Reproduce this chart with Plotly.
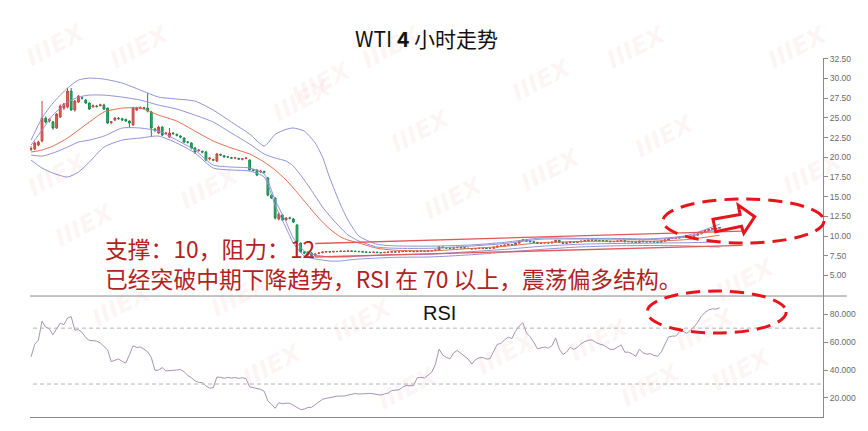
import plotly.graph_objects as go

# ---------------- data ----------------
open_px = [
    21.00, 21.04, 21.55, 22.06, 24.97, 24.60, 24.50, 23.71, 25.10, 26.24,
    26.37, 28.40, 26.00, 27.00, 27.55, 27.26, 26.88, 26.40, 26.50, 26.55,
    26.62, 26.24, 24.40, 24.72, 24.95, 24.90, 24.80, 24.59, 24.09, 25.99,
    26.20, 26.30, 26.24, 25.74, 23.60, 23.07, 23.83, 23.00, 22.56, 23.07,
    22.90, 22.70, 22.44, 21.95, 21.80, 21.17, 20.85, 20.75, 20.66, 19.80,
    19.70, 19.52, 20.35, 20.20, 20.05, 19.95, 19.90, 19.85, 19.75, 19.85,
    19.64, 18.40, 18.38, 18.15, 18.20, 17.36, 15.20, 14.82, 12.16, 12.66,
    12.05, 12.30, 12.16, 11.40, 9.11, 7.97, 7.59, 7.84, 7.55, 7.80,
    7.90, 7.97, 8.02, 7.98, 8.05, 8.03, 8.08, 8.04, 8.10, 8.07,
    8.05, 8.02, 7.97, 7.95, 7.92, 7.96, 7.90, 7.88, 7.93, 7.96,
    8.00, 7.98, 8.01, 8.05, 8.08, 8.04, 8.02, 8.10, 8.08, 8.05,
    8.12, 8.15, 8.22, 8.62, 8.52, 8.48, 8.45, 8.52, 8.56, 8.50,
    8.46, 8.42, 8.36, 8.42, 8.45, 8.46, 8.43, 8.45, 8.58, 8.72,
    8.75, 8.84, 8.92, 8.88, 9.10, 9.40, 9.52, 9.35, 9.28, 9.20,
    9.08, 9.12, 9.15, 9.12, 9.22, 9.45, 9.20, 9.08, 9.14, 9.25,
    9.20, 9.26, 9.35, 9.42, 9.47, 9.50, 9.44, 9.41, 9.39, 9.34,
    9.28, 9.30, 9.36, 9.42, 9.28, 9.29, 9.25, 9.18, 9.36, 9.28,
    9.26, 9.28, 9.24, 9.22, 9.33, 9.52, 9.68, 9.72, 9.74, 9.88,
    9.92, 9.86, 9.96, 10.10, 10.28, 10.52, 10.70, 10.86, 10.95, 10.98,
]
high_px = [
    21.40, 22.00, 22.10, 27.13, 25.20, 25.00, 24.60, 25.60, 26.70, 26.90,
    28.78, 28.80, 27.30, 27.90, 27.70, 27.40, 27.00, 26.70, 26.65, 26.80,
    26.80, 26.30, 24.60, 25.10, 25.10, 25.00, 24.90, 24.70, 26.40, 26.40,
    26.45, 26.40, 28.15, 25.90, 23.70, 24.00, 23.95, 23.20, 23.71, 23.20,
    23.00, 22.80, 22.55, 22.05, 21.90, 21.30, 21.05, 20.85, 20.80, 20.00,
    19.80, 20.55, 20.45, 20.30, 20.15, 20.05, 20.05, 19.95, 19.90, 20.00,
    19.75, 18.50, 18.50, 18.40, 18.30, 17.50, 15.30, 14.95, 12.95, 12.80,
    12.40, 12.45, 12.30, 11.50, 9.20, 8.05, 8.05, 7.95, 7.85, 7.95,
    8.05, 8.08, 8.07, 8.10, 8.10, 8.14, 8.12, 8.16, 8.15, 8.12,
    8.09, 8.06, 8.02, 8.00, 8.01, 8.00, 7.95, 7.98, 8.01, 8.05,
    8.04, 8.06, 8.10, 8.13, 8.12, 8.08, 8.15, 8.14, 8.12, 8.17,
    8.20, 8.27, 8.70, 8.66, 8.57, 8.53, 8.57, 8.61, 8.60, 8.54,
    8.50, 8.46, 8.47, 8.50, 8.51, 8.50, 8.50, 8.63, 8.77, 8.80,
    8.89, 8.97, 8.96, 9.15, 9.46, 9.58, 9.56, 9.39, 9.32, 9.24,
    9.17, 9.20, 9.19, 9.27, 9.50, 9.49, 9.24, 9.19, 9.30, 9.29,
    9.31, 9.40, 9.47, 9.52, 9.55, 9.54, 9.48, 9.45, 9.43, 9.38,
    9.35, 9.41, 9.47, 9.46, 9.34, 9.33, 9.29, 9.41, 9.40, 9.32,
    9.33, 9.32, 9.28, 9.38, 9.57, 9.73, 9.77, 9.79, 9.93, 9.97,
    9.96, 10.01, 10.15, 10.33, 10.57, 10.75, 10.91, 11.00, 11.03, 11.13,
]
low_px = [
    20.80, 20.90, 21.40, 21.90, 24.30, 24.40, 23.50, 23.60, 25.00, 26.00,
    26.20, 25.90, 25.80, 26.90, 27.35, 26.80, 26.00, 26.30, 26.30, 26.45,
    26.00, 24.20, 24.20, 24.60, 24.75, 24.60, 24.50, 23.71, 24.00, 25.90,
    26.10, 26.05, 25.70, 22.56, 23.20, 22.95, 22.70, 22.90, 22.45, 22.85,
    22.65, 22.40, 21.80, 21.75, 21.00, 20.40, 20.70, 20.50, 19.50, 19.60,
    19.50, 19.40, 20.15, 19.95, 19.90, 19.80, 19.75, 19.65, 19.60, 19.75,
    18.30, 18.20, 17.60, 18.00, 17.95, 15.05, 14.70, 12.10, 12.00, 11.90,
    11.95, 12.10, 11.65, 9.10, 7.85, 7.70, 7.50, 7.40, 7.35, 7.70,
    7.80, 7.90, 7.93, 7.94, 7.98, 7.99, 8.00, 8.01, 8.02, 8.00,
    7.96, 7.92, 7.90, 7.87, 7.88, 7.85, 7.83, 7.85, 7.89, 7.92,
    7.93, 7.94, 7.97, 8.01, 8.00, 7.97, 7.99, 8.03, 8.01, 8.02,
    8.08, 8.11, 8.18, 8.47, 8.43, 8.40, 8.41, 8.48, 8.45, 8.41,
    8.37, 8.31, 8.32, 8.38, 8.40, 8.38, 8.39, 8.41, 8.54, 8.67,
    8.71, 8.80, 8.83, 8.85, 9.06, 9.36, 9.30, 9.23, 9.15, 9.03,
    9.04, 9.08, 9.07, 9.08, 9.18, 9.15, 9.03, 9.04, 9.10, 9.15,
    9.16, 9.22, 9.31, 9.38, 9.43, 9.39, 9.36, 9.34, 9.29, 9.23,
    9.24, 9.26, 9.32, 9.23, 9.24, 9.20, 9.13, 9.14, 9.23, 9.21,
    9.22, 9.19, 9.17, 9.18, 9.29, 9.48, 9.64, 9.67, 9.70, 9.84,
    9.81, 9.82, 9.92, 10.06, 10.24, 10.48, 10.66, 10.82, 10.90, 10.94,
]
close_px = [
    21.10, 21.80, 21.93, 24.97, 24.47, 24.80, 23.71, 25.48, 26.50, 26.75,
    28.40, 26.00, 27.13, 27.77, 27.50, 26.88, 26.12, 26.55, 26.45, 26.65,
    26.12, 24.34, 24.50, 24.97, 24.90, 24.75, 24.60, 24.34, 26.24, 26.24,
    26.30, 26.20, 25.86, 23.71, 23.45, 23.83, 22.82, 23.07, 23.07, 23.00,
    22.80, 22.56, 21.93, 21.90, 21.17, 20.66, 20.90, 20.66, 19.64, 19.90,
    19.65, 20.41, 20.28, 20.05, 20.03, 19.90, 19.95, 19.77, 19.80, 19.90,
    18.38, 18.35, 17.74, 18.25, 18.10, 15.20, 14.82, 12.28, 12.79, 12.03,
    12.28, 12.25, 11.78, 9.24, 7.97, 7.84, 7.97, 7.50, 7.72, 7.84,
    7.97, 8.02, 7.98, 8.05, 8.03, 8.08, 8.04, 8.10, 8.07, 8.05,
    8.02, 7.97, 7.95, 7.92, 7.96, 7.90, 7.88, 7.93, 7.96, 8.00,
    7.98, 8.01, 8.05, 8.08, 8.04, 8.02, 8.10, 8.08, 8.05, 8.12,
    8.15, 8.22, 8.62, 8.52, 8.48, 8.45, 8.52, 8.56, 8.50, 8.46,
    8.42, 8.36, 8.42, 8.45, 8.46, 8.43, 8.45, 8.58, 8.72, 8.75,
    8.84, 8.92, 8.88, 9.10, 9.40, 9.52, 9.35, 9.28, 9.20, 9.08,
    9.12, 9.15, 9.12, 9.22, 9.45, 9.20, 9.08, 9.14, 9.25, 9.20,
    9.26, 9.35, 9.42, 9.47, 9.50, 9.44, 9.41, 9.39, 9.34, 9.28,
    9.30, 9.36, 9.42, 9.28, 9.29, 9.25, 9.18, 9.36, 9.28, 9.26,
    9.28, 9.24, 9.22, 9.33, 9.52, 9.68, 9.72, 9.74, 9.88, 9.92,
    9.86, 9.96, 10.10, 10.28, 10.52, 10.70, 10.86, 10.95, 10.98, 11.08,
]

# band / moving-average lines, read at these candle positions
band_idx = [0, 3, 6, 10, 13, 16, 20, 25, 30, 35, 40, 45, 50, 55, 60, 64, 67, 70,
            72, 75, 78, 80, 82, 85, 87, 90, 95, 100, 110, 120, 130, 140, 150,
            160, 170, 180, 189]
band_upper_outer = [22.18, 24.97, 26.88, 28.78, 29.80, 30.05, 29.92, 29.42, 28.53,
                    27.64, 27.39, 27.13, 25.99, 24.47, 22.94, 21.42, 22.90, 23.55,
                    23.71, 23.32, 21.80, 20.03, 17.36, 13.93, 12.03, 10.00, 8.95,
                    8.75, 8.72, 8.85, 9.20, 9.75, 9.70, 9.70, 9.65, 10.05, 11.50]
band_upper_inner = [21.55, 23.45, 25.35, 27.00, 27.64, 27.89, 27.89, 27.64, 27.26,
                    26.62, 26.12, 25.35, 24.47, 23.07, 21.67, 20.41, 19.90, 19.52,
                    18.88, 17.11, 15.08, 13.68, 12.54, 11.02, 10.13, 9.37, 8.60,
                    8.45, 8.45, 8.70, 9.05, 9.60, 9.62, 9.60, 9.55, 9.90, 11.00]
ma_middle = [20.66, 20.91, 21.42, 22.44, 23.45, 24.47, 25.74, 26.24, 26.24,
             25.35, 24.59, 23.32, 22.06, 21.17, 20.41, 19.39, 18.38, 17.11,
             16.09, 14.44, 12.79, 11.78, 10.89, 9.87, 9.49, 9.11, 8.45,
             8.20, 8.12, 8.40, 8.70, 9.15, 9.30, 9.35, 9.35, 9.55, 10.10]
band_lower_inner = [20.28, 20.15, 20.53, 21.29, 21.93, 22.18, 22.69, 23.71, 23.71,
                    23.32, 22.18, 20.91, 19.01, 18.76, 18.63, 17.87, 14.57, 11.78,
                    9.75, 8.10, 7.59, 7.46, 7.34, 7.34, 7.34, 7.46, 7.55,
                    7.65, 7.70, 8.00, 8.30, 8.70, 8.95, 9.05, 9.10, 9.15, 9.25]
band_lower_outer = [19.64, 18.63, 17.99, 17.49, 18.12, 19.39, 21.29, 22.18, 22.44,
                    22.69, 21.80, 20.53, 18.63, 18.38, 18.25, 17.49, 13.93, 11.02,
                    9.11, 7.46, 7.08, 6.95, 6.83, 6.83, 6.95, 7.08, 7.20,
                    7.30, 7.35, 7.60, 7.95, 8.30, 8.60, 8.75, 8.80, 8.75, 8.60]

rsi = [
    49.5, 58.5, 61.4, 75.0, 70.8, 69.5, 65.3, 69.8, 73.6, 72.5,
    77.2, 78.3, 68.6, 68.9, 67.0, 63.2, 61.2, 61.1, 60.7, 59.4,
    57.2, 54.5, 46.0, 46.8, 48.0, 46.2, 45.0, 51.0, 57.4, 56.2,
    56.5, 55.0, 53.1, 49.0, 39.8, 40.0, 41.8, 39.4, 39.8, 39.8,
    40.0, 40.4, 38.8, 36.2, 34.5, 32.3, 31.2, 31.0, 28.7, 27.1,
    27.3, 35.0, 34.8, 34.1, 34.7, 34.3, 34.6, 34.1, 34.5, 33.8,
    28.0, 27.5, 26.7, 26.2, 24.8, 17.8, 15.6, 12.6, 16.6, 15.9,
    16.3, 16.2, 14.8, 13.0, 11.7, 12.1, 13.2, 13.3, 15.2, 17.7,
    19.1, 19.7, 20.3, 20.8, 21.3, 21.4, 21.4, 22.1, 22.9, 23.2,
    22.8, 22.7, 23.1, 23.3, 23.0, 22.3, 22.1, 22.9, 23.5, 25.3,
    25.7, 25.9, 27.8, 29.0, 28.8, 28.8, 34.5, 34.8, 34.3, 36.7,
    38.5, 44.0, 55.0, 50.8, 49.0, 48.0, 52.3, 54.0, 52.0, 49.8,
    47.8, 44.3, 47.5, 48.8, 49.0, 47.9, 48.1, 53.5, 58.5, 59.0,
    61.7, 63.5, 62.5, 67.8, 71.5, 73.8, 66.5, 63.8, 60.0, 55.2,
    55.9, 56.5, 55.7, 57.5, 63.0, 55.0, 51.1, 52.8, 56.4, 54.8,
    56.3, 58.9, 60.4, 61.3, 61.6, 59.8, 58.7, 58.0, 56.4, 54.8,
    54.9, 56.6, 58.0, 52.8, 52.8, 51.6, 49.8, 55.0, 52.3, 51.4,
    51.8, 50.4, 49.9, 53.0, 59.0, 63.7, 64.3, 64.3, 67.5, 67.8,
    66.2, 68.3, 70.9, 74.2, 78.6, 81.1, 83.1, 83.8, 83.6, 84.5,
]

price_ticks = [5.0, 7.5, 10.0, 12.5, 15.0, 17.5, 20.0, 22.5, 25.0, 27.5, 30.0, 32.5]
rsi_ticks = [20, 40, 60, 80]
rsi_levels = [70, 30]

# trend channel drawn on the chart: (x0, y0, x1, y1) in candle index / price
channel_lines = [(78.0, 9.05, 195.3, 10.63), (78.0, 7.34, 195.3, 8.82)]

title_text = "WTI <b>4</b> 小时走势"
note_text = "支撑：10，阻力：12<br>已经突破中期下降趋势，RSI 在 70 以上，震荡偏多结构。"

# ---------------- layout helpers ----------------
# The page body has an 8px default margin, so the figure is drawn 8px smaller
# and all reference pixel positions are mapped through the plot area.
PAGE_OFF = 8
W, H = 868 - PAGE_OFF, 431 - PAGE_OFF
PL, PR, PT, PB = 30, 828, 58, 417          # plot area in reference pixels
ML, MT = PL - PAGE_OFF, PT - PAGE_OFF
MR, MB = W - (PR - PAGE_OFF), H - (PB - PAGE_OFF)
SPLIT = 0.337


def fx(p):  # reference pixel x -> paper
    return (p - PL) / (PR - PL)


def fy(p):  # reference pixel y -> paper
    return (PB - p) / (PB - PT)


BLUE = "#9092d6"
ORANGE = "#e36d4d"
RED = "#e8141b"
idx = list(range(len(close_px)))

fig = go.Figure()

for vals, col in [(band_upper_outer, BLUE), (band_upper_inner, BLUE),
                  (ma_middle, ORANGE), (band_lower_inner, BLUE),
                  (band_lower_outer, BLUE)]:
    fig.add_trace(go.Scatter(
        x=band_idx, y=vals, mode="lines", xaxis="x", yaxis="y",
        line=dict(color=col, width=1, shape="spline", smoothing=0.6),
        hoverinfo="skip", showlegend=False))

fig.add_trace(go.Candlestick(
    x=idx, open=open_px, high=high_px, low=low_px, close=close_px,
    xaxis="x", yaxis="y", whiskerwidth=0,
    increasing=dict(line=dict(color="#c8413d", width=1), fillcolor="#e8605a"),
    decreasing=dict(line=dict(color="#178a4c", width=1), fillcolor="#23b36b"),
    hoverinfo="skip", showlegend=False))

fig.add_trace(go.Scatter(
    x=idx, y=rsi, mode="lines", xaxis="x2", yaxis="y2",
    line=dict(color="#a893b2", width=1), hoverinfo="skip", showlegend=False))

tickfont = dict(family="Liberation Sans", size=8.5, color="#6a6a6a")
fig.update_layout(
    width=W, height=H,
    margin=dict(l=ML, r=MR, t=MT, b=MB, pad=0),
    paper_bgcolor="white", plot_bgcolor="white", showlegend=False,
    title=dict(text=title_text, x=0.5, xref="paper", xanchor="center",
               y=1 - (40 - PAGE_OFF) / H, yref="container", yanchor="middle",
               font=dict(family="Noto Sans CJK SC", size=21, color="#111111")),
    xaxis=dict(domain=[0, 1], range=[-0.3, 217.4], anchor="y", visible=False,
               rangeslider=dict(visible=False)),
    yaxis=dict(domain=[SPLIT, 1], range=[2.386, 32.6], anchor="x", side="right",
               tickvals=price_ticks, ticktext=[f"{v:.2f}" for v in price_ticks],
               showgrid=False, zeroline=False, showline=True, linecolor="#8a8a8a",
               ticks="outside", ticklen=4, tickcolor="#8a8a8a", tickfont=tickfont),
    xaxis2=dict(domain=[0, 1], range=[-0.3, 217.4], anchor="y2",
                showticklabels=False, showgrid=False, zeroline=False,
                showline=True, linecolor="#8a8a8a", ticks=""),
    yaxis2=dict(domain=[0, SPLIT], range=[6.4, 93], anchor="x2", side="right",
                tickvals=rsi_ticks, ticktext=[f"{v:.3f}" for v in rsi_ticks],
                showgrid=False, zeroline=False, showline=True, linecolor="#8a8a8a",
                ticks="outside", ticklen=4, tickcolor="#8a8a8a", tickfont=tickfont),
)

shapes = []
# panel separator
shapes.append(dict(type="line", xref="paper", yref="paper", x0=0, x1=fx(852),
                   y0=SPLIT, y1=SPLIT, line=dict(color="#8a8a8a", width=1)))
# RSI 70 / 30 levels
for lv in rsi_levels:
    shapes.append(dict(type="line", xref="paper", yref="y2", x0=fx(33), x1=1,
                       y0=lv, y1=lv, line=dict(color="#b4b4b4", width=1, dash="4px,3px")))
# trend channel
for (x0, y0, x1, y1) in channel_lines:
    shapes.append(dict(type="line", xref="x", yref="y", x0=x0, y0=y0, x1=x1, y1=y1,
                       line=dict(color="#e05a5a", width=1.3)))
# dashed ellipses
for (cx, cy, rx, ry) in [(748, 221, 81, 22), (721, 312, 70, 21)]:
    shapes.append(dict(type="circle", xref="paper", yref="paper",
                       x0=fx(cx - rx), x1=fx(cx + rx), y0=fy(cy + ry), y1=fy(cy - ry),
                       line=dict(color=RED, width=3, dash="14px,8px")))
# hollow arrow
arrow_pts = [(717.3, 219.3), (744.5, 214.5), (742.7, 205.0), (759.3, 216.7),
             (748.3, 233.3), (746.0, 226.3), (720.0, 231.7)]
path = "M " + " L ".join(f"{fx(a):.5f},{fy(b):.5f}" for a, b in arrow_pts) + " Z"
shapes.append(dict(type="path", xref="paper", yref="paper", path=path,
                   line=dict(color=RED, width=3), fillcolor="rgba(255,255,255,0)"))

annotations = []
# faint watermarks
wm_centers = [(18, 15), (103, 17), (394, 17), (678, 17), (840, 17), (286, 53), (545, 50),
              (267, 70), (423, 101), (706, 106), (591, 140), (20, 145), (173, 188),
              (456, 198), (48, 225), (855, 143), (787, 280), (85, 335), (205, 325),
              (237, 395), (365, 350), (410, 418), (640, 370), (747, 360), (783, 400),
              (510, 383), (692, 415)]
for (cx, cy) in wm_centers:
    annotations.append(dict(xref="paper", yref="paper", x=fx(cx), y=fy(cy),
                            text="<b><i>IIIEX</i></b>", showarrow=False, textangle=-28,
                            font=dict(family="DejaVu Sans", size=24,
                                      color="rgba(225,110,110,0.08)")))
annotations.append(dict(xref="paper", yref="paper", x=fx(103), y=fy(263),
                        xanchor="left", yanchor="middle", align="left",
                        text=note_text, showarrow=False,
                        font=dict(family="Noto Sans CJK SC", size=22.8, color="#b22222")))
annotations.append(dict(xref="paper", yref="paper", x=fx(442), y=fy(313),
                        xanchor="center", yanchor="middle", text="RSI", showarrow=False,
                        font=dict(family="Liberation Sans", size=20, color="#111111")))

fig.update_layout(shapes=shapes, annotations=annotations)
fig.write_html("out.html")
